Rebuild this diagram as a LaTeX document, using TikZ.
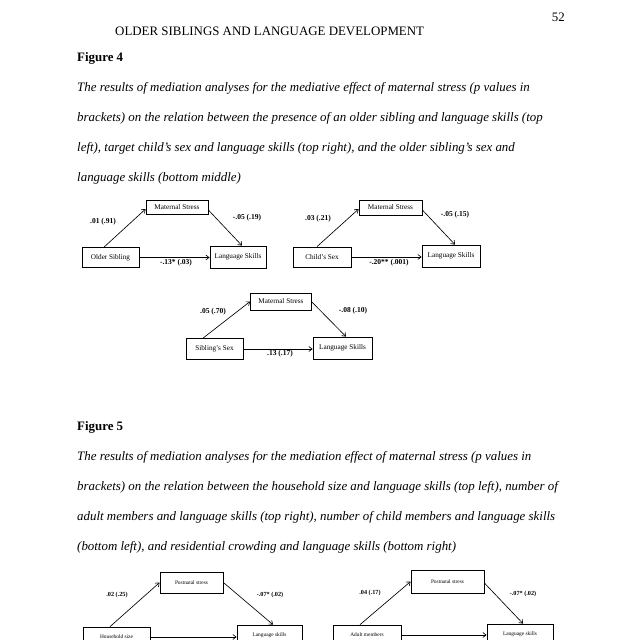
\documentclass[tikz,border=0pt]{standalone}
\usepackage{fontspec}
\setmainfont{Liberation Serif}
\usetikzlibrary{arrows.meta,positioning}
\newcommand\pxlen{0.9302pt}

\begin{document}
\begin{tikzpicture}[
  x=\pxlen,y=-\pxlen,
  pagetext/.style={anchor=base west,inner sep=0pt,font=\fontsize{12}{14}\selectfont},
  captext/.style={pagetext,font=\fontsize{12}{14}\selectfont\itshape},
  headtext/.style={pagetext,font=\fontsize{12}{14}\selectfont\bfseries},
  varbox/.style={rectangle,draw,line width=0.7pt,inner sep=0pt,align=center,
                 font=\fontsize{6.7}{7}\selectfont},
  smallbox/.style={varbox,font=\fontsize{5}{6}\selectfont},
  coef/.style={inner sep=0pt,font=\fontsize{7}{8}\selectfont\bfseries},
  smallcoef/.style={coef,font=\fontsize{5.8}{6}\selectfont\bfseries},
  arrow/.style={-{Straight Barb[length=3pt,width=4.5pt]},line width=0.6pt},
]
  \useasboundingbox (0,0) rectangle (640,640);
  \fill[white] (0,0) rectangle (640,640);
  \clip (0,0) rectangle (640,640);

  % page head
  \node[pagetext,anchor=base east] (pageno) at (565,21) {52};
  \node[pagetext] (runhead) at (115,35) {OLDER SIBLINGS AND LANGUAGE DEVELOPMENT};

  % figure 4 caption
  \node[headtext] (figfour) at (77,61) {Figure 4};
  \node[captext] (capA1) at (77,91) {The results of mediation analyses for the mediative effect of maternal stress (p values in};
  \node[captext] (capA2) at (77,121) {brackets) on the relation between the presence of an older sibling and language skills (top};
  \node[captext] (capA3) at (77,151) {left), target child's sex and language skills (top right), and the older sibling's sex and};
  \node[captext] (capA4) at (77,181) {language skills (bottom middle)};

  % top left
  \node[varbox,minimum width=62*\pxlen,minimum height=14*\pxlen] (ms1) at (177,207) {Maternal Stress};
  \node[varbox,minimum width=57*\pxlen,minimum height=20*\pxlen] (os1) at (110.5,257.5) {Older Sibling};
  \node[varbox,minimum width=56*\pxlen,minimum height=22*\pxlen] (ls1) at (238,257) {Language Skills};
  \draw[arrow] ([xshift=-6.5*\pxlen]os1.north) -- ([yshift=-2*\pxlen]ms1.west);
  \draw[arrow] ([yshift=-3*\pxlen]ms1.east) -- ([xshift=4*\pxlen]ls1.north);
  \draw[arrow] (os1.east) -- (os1.east -| ls1.west);
  \node[coef] (a1) at (103,222) {.01 (.91)};
  \node[coef] (b1) at (247,218) {-.05 (.19)};
  \node[coef] (c1) at (176,263) {-.13* (.03)};

  % top right
  \node[varbox,minimum width=63*\pxlen,minimum height=15*\pxlen] (ms2) at (390.5,207.5) {Maternal Stress};
  \node[varbox,minimum width=58*\pxlen,minimum height=20*\pxlen] (cs2) at (322,257) {Child's Sex};
  \node[varbox,minimum width=58*\pxlen,minimum height=22*\pxlen] (ls2) at (451,256) {Language Skills};
  \draw[arrow] ([xshift=-5*\pxlen]cs2.north) -- ([yshift=-1.5*\pxlen]ms2.west);
  \draw[arrow] ([yshift=-2.5*\pxlen]ms2.east) -- ([xshift=4*\pxlen]ls2.north);
  \draw[arrow] (cs2.east) -- (cs2.east -| ls2.west);
  \node[coef] (a2) at (318,219) {.03 (.21)};
  \node[coef] (b2) at (455,215) {-.05 (.15)};
  \node[coef] (c2) at (389,263) {-.20** (.001)};

  % bottom middle
  \node[varbox,minimum width=61*\pxlen,minimum height=17*\pxlen] (ms3) at (281,301.5) {Maternal Stress};
  \node[varbox,minimum width=57*\pxlen,minimum height=21*\pxlen] (ss3) at (214.5,349) {Sibling's Sex};
  \node[varbox,minimum width=59*\pxlen,minimum height=22*\pxlen] (ls3) at (342.5,348) {Language Skills};
  \draw[arrow] ([xshift=-11.5*\pxlen]ss3.north) -- (ms3.west);
  \draw[arrow] ([yshift=-0.5*\pxlen]ms3.east) -- ([xshift=3.5*\pxlen]ls3.north);
  \draw[arrow] (ss3.east) -- (ss3.east -| ls3.west);
  \node[coef] (a3) at (213,312) {.05 (.70)};
  \node[coef] (b3) at (353,311) {-.08 (.10)};
  \node[coef] (c3) at (280,354) {.13 (.17)};

  % figure 5 caption
  \node[headtext] (figfive) at (77,430) {Figure 5};
  \node[captext] (capB1) at (77,460) {The results of mediation analyses for the mediation effect of maternal stress (p values in};
  \node[captext] (capB2) at (77,490) {brackets) on the relation between the household size and language skills (top left), number of};
  \node[captext] (capB3) at (77,520) {adult members and language skills (top right), number of child members and language skills};
  \node[captext] (capB4) at (77,550) {(bottom left), and residential crowding and language skills (bottom right)};

  % household size
  \node[smallbox,minimum width=63*\pxlen,minimum height=21*\pxlen] (ps4) at (191.5,582.5) {Postnatal stress};
  \node[smallbox,minimum width=67*\pxlen,minimum height=20*\pxlen] (hs4) at (116.5,637) {Household size};
  \node[smallbox,minimum width=65*\pxlen,minimum height=20*\pxlen] (ls4) at (269.5,635) {Language skills};
  \draw[arrow] ([xshift=-6.5*\pxlen]hs4.north) -- (ps4.west);
  \draw[arrow] (ps4.east) -- ([xshift=3.5*\pxlen]ls4.north);
  \draw[arrow] (hs4.east) -- (hs4.east -| ls4.west);
  \node[smallcoef] (a4) at (117,595) {.02 (.25)};
  \node[smallcoef] (b4) at (270,595) {-.07* (.02)};

  % adult members
  \node[smallbox,minimum width=73*\pxlen,minimum height=23*\pxlen] (ps5) at (447.5,581.5) {Postnatal stress};
  \node[smallbox,minimum width=68*\pxlen,minimum height=20*\pxlen] (am5) at (367,635) {Adult members};
  \node[smallbox,minimum width=66*\pxlen,minimum height=20*\pxlen] (ls5) at (520,634) {Language skills};
  \draw[arrow] ([xshift=-7*\pxlen]am5.north) -- (ps5.west);
  \draw[arrow] ([yshift=-1.5*\pxlen]ps5.east) -- ([xshift=3*\pxlen]ls5.north);
  \draw[arrow] (am5.east) -- (am5.east -| ls5.west);
  \node[smallcoef] (a5) at (370,593) {.04 (.17)};
  \node[smallcoef] (b5) at (523,594) {-.07* (.02)};
\end{tikzpicture}
\end{document}
